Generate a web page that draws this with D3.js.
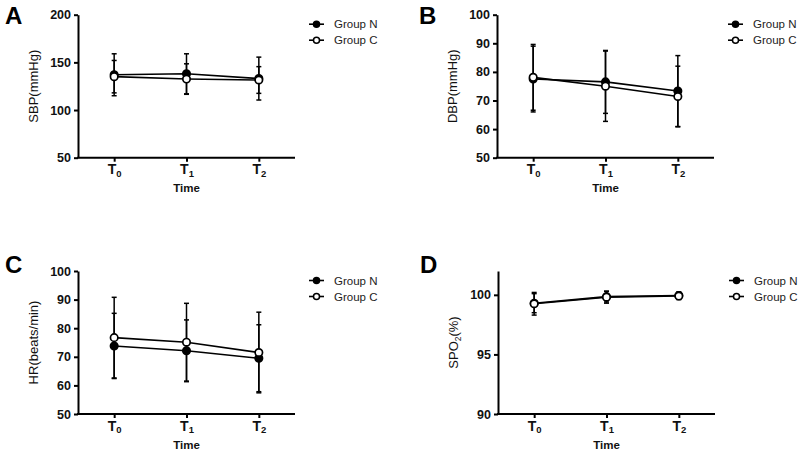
<!DOCTYPE html>
<html>
<head>
<meta charset="utf-8">
<script src="https://cdn.jsdelivr.net/npm/d3@7"></script>
<style>
  body { margin: 0; background: #fff; }
  svg { display: block; font-family: Arial, "Liberation Sans", sans-serif; }
</style>
</head>
<body>
<svg id="chart" width="800" height="450"></svg>
<script>
// ---- data ----
const categories = ["T0", "T1", "T2"];
const seriesNames = ["Group N", "Group C"];

const sbpN = [137, 138, 133];
const sbpNsd = [22, 21, 22.5];
const sbpC = [135, 132.5, 131.5];
const sbpCsd = [17, 16, 14];

const dbpN = [77.5, 76.5, 73.3];
const dbpNsd = [11.5, 11, 12.4];
const dbpC = [78.1, 75, 71.4];
const dbpCsd = [11.5, 12.3, 10.6];

const hrN = [73.8, 72.1, 69.5];
const hrNsd = [11.4, 10.8, 11.7];
const hrC = [76.7, 75.1, 71.5];
const hrCsd = [14.1, 13.6, 14.1];

const spoN = [99.3, 99.85, 99.95];
const spoNsd = [0.8, 0.45, 0.3];
const spoC = [99.25, 99.8, 99.9];
const spoCsd = [0.95, 0.5, 0.3];

const ticksA = [50, 100, 150, 200];
const ticksB = [50, 60, 70, 80, 90, 100];
const ticksC = [50, 60, 70, 80, 90, 100];
const ticksD = [90, 95, 100];

const panels = [
  { letter: "A", left: 78, top: 14.7, domain: [50, 200], ticks: ticksA, ylabel: ["SBP(mmHg)"],
    N: sbpN, Nsd: sbpNsd, C: sbpC, Csd: sbpCsd, lx: 5, ly: 24 },
  { letter: "B", left: 497, top: 14.7, domain: [50, 100], ticks: ticksB, ylabel: ["DBP(mmHg)"],
    N: dbpN, Nsd: dbpNsd, C: dbpC, Csd: dbpCsd, lx: 419, ly: 24 },
  { letter: "C", left: 78, top: 271, domain: [50, 100], ticks: ticksC, ylabel: ["HR(beats/min)"],
    N: hrN, Nsd: hrNsd, C: hrC, Csd: hrCsd, lx: 5, ly: 273 },
  { letter: "D", left: 498, top: 271, domain: [90, 102], ticks: ticksD, ylabel: ["SPO", "2", "(%)"],
    N: spoN, Nsd: spoNsd, C: spoC, Csd: spoCsd, lx: 420, ly: 273 }
];

const W = 217, H = 143;
const svg = d3.select("#chart");

panels.forEach(p => {
  const g = svg.append("g").attr("transform", `translate(${p.left},${p.top})`);
  const x = d3.scalePoint().domain(categories).range([0, W]).padding(0.5);
  const y = d3.scaleLinear().domain(p.domain).range([H, 0]);

  // panel letter
  svg.append("text").attr("x", p.lx).attr("y", p.ly)
    .attr("font-size", 24).attr("font-weight", "bold").attr("fill", "#000").text(p.letter);

  // y axis
  const ya = g.append("g").call(d3.axisLeft(y).tickValues(p.ticks).tickSize(4).tickPadding(3).tickSizeOuter(0));
  ya.select(".domain").attr("stroke", "#000").attr("stroke-width", 2);
  ya.selectAll(".tick line").attr("stroke", "#000").attr("stroke-width", 2);
  ya.selectAll(".tick text").attr("font-size", 12.5).attr("font-weight", "bold").attr("fill", "#111")
    .attr("font-family", "Arial, 'Liberation Sans', sans-serif");

  // x axis
  const xa = g.append("g").attr("transform", `translate(0,${H})`)
    .call(d3.axisBottom(x).tickSize(4).tickSizeOuter(0).tickFormat(""));
  xa.select(".domain").attr("stroke", "#000").attr("stroke-width", 2).attr("d", `M-1,0H${W}`);
  xa.selectAll(".tick line").attr("stroke", "#000").attr("stroke-width", 2);
  xa.selectAll(".tick").each(function(d) {
    const t = d3.select(this).append("text").attr("y", 16.5).attr("text-anchor", "middle")
      .attr("fill", "#111").attr("font-weight", "bold").attr("font-family", "Arial, 'Liberation Sans', sans-serif");
    t.append("tspan").attr("font-size", 14).text(d.charAt(0));
    t.append("tspan").attr("font-size", 9.5).attr("dy", 2.5).text(d.slice(1));
  });

  // x title
  g.append("text").attr("x", x(categories[1])).attr("y", H + 34.5).attr("text-anchor", "middle")
    .attr("font-size", 11.5).attr("font-weight", "bold").attr("fill", "#111").text("Time");

  // y title
  const yt = g.append("text").attr("transform", `translate(-40,${H / 2}) rotate(-90)`)
    .attr("text-anchor", "middle").attr("font-size", 13).attr("fill", "#111");
  yt.append("tspan").text(p.ylabel[0]);
  if (p.ylabel.length > 1) {
    yt.append("tspan").attr("font-size", 8.5).attr("dy", 3).text(p.ylabel[1]);
    yt.append("tspan").attr("dy", -3).text(p.ylabel[2]);
  }

  const series = [
    { name: seriesNames[0], v: p.N, sd: p.Nsd, fill: "#000" },
    { name: seriesNames[1], v: p.C, sd: p.Csd, fill: "#fff" }
  ];

  const line = d3.line().x((d, i) => x(categories[i])).y(d => y(d));

  // error bars
  series.forEach(s => {
    const eb = g.append("g").attr("stroke", "#000").attr("stroke-width", 1.5);
    s.v.forEach((v, i) => {
      const cx = x(categories[i]);
      eb.append("line").attr("x1", cx).attr("x2", cx).attr("y1", y(v - s.sd[i])).attr("y2", y(v + s.sd[i]));
      [v - s.sd[i], v + s.sd[i]].forEach(e => {
        eb.append("line").attr("x1", cx - 2.5).attr("x2", cx + 2.5).attr("y1", y(e)).attr("y2", y(e));
      });
    });
  });

  // lines
  series.forEach(s => {
    g.append("path").datum(s.v).attr("d", line).attr("fill", "none")
      .attr("stroke", "#000").attr("stroke-width", 1.6);
  });

  // markers
  series.forEach(s => {
    g.selectAll(null).data(s.v).enter().append("circle")
      .attr("cx", (d, i) => x(categories[i])).attr("cy", d => y(d)).attr("r", 3.7)
      .attr("fill", s.fill).attr("stroke", "#000").attr("stroke-width", 1.7);
  });

  // legend
  const lg = g.append("g").attr("transform", `translate(${W},0)`);
  series.forEach((s, i) => {
    const ry = 9.5 + i * 16;
    lg.append("line").attr("x1", 14).attr("x2", 29).attr("y1", ry).attr("y2", ry)
      .attr("stroke", "#000").attr("stroke-width", 1.6);
    lg.append("circle").attr("cx", 21.5).attr("cy", ry).attr("r", 3)
      .attr("fill", s.fill).attr("stroke", "#000").attr("stroke-width", 1.5);
    lg.append("text").attr("x", 39).attr("y", ry + 4).attr("font-size", 11.5)
      .attr("fill", "#222").text(s.name);
  });
});
</script>
</body>
</html>
